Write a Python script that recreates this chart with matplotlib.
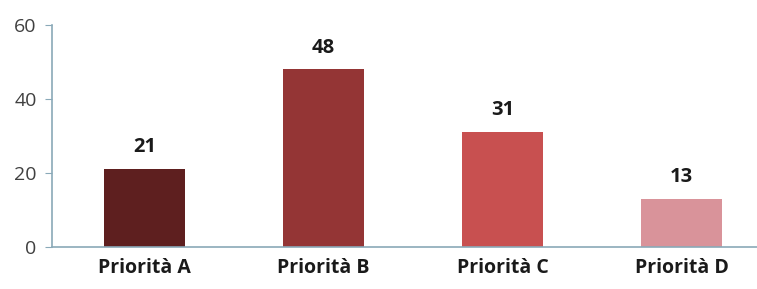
import matplotlib
matplotlib.use("Agg")
import matplotlib.pyplot as plt

categories = ["Priorità A", "Priorità B", "Priorità C", "Priorità D"]
values = [21, 48, 31, 13]
labels = ["21", "48", "31", "13"]
colors = ["#5e1f1f", "#943535", "#c85050", "#d9939a"]
yticks = [0, 20, 40, 60]

plt.rcParams['font.family'] = ['Open Sans', 'DejaVu Sans']

fig = plt.figure(figsize=(7.57, 2.89), dpi=100)
ax = fig.add_axes([0.0687, 0.1453, 0.95, 0.7682])
x = list(range(len(categories)))
ax.bar(x, values, width=0.453, color=colors)
for xi, v, lab in zip(x, values, labels):
    ax.text(xi, v + 3.2, lab, ha='center', va='bottom', fontsize=14.5,
            fontweight='bold', color='#1a1a1a')

ax.set_xlim(-0.517, 3.5)
ax.set_ylim(0, 60)
ax.set_yticks(yticks)
ax.set_xticks(x)
ax.set_xticklabels(categories, fontsize=14, fontweight='bold', color='#1a1a1a')
ax.tick_params(axis='x', length=0, pad=8)
ax.tick_params(axis='y', length=5, color='#8aa9b8', labelsize=14,
               labelcolor='#404040', pad=6, direction='out')
for s in ['top', 'right']:
    ax.spines[s].set_visible(False)
ax.spines['left'].set_color('#8aa9b8')
ax.spines['bottom'].set_color('#8aa9b8')
ax.spines['left'].set_linewidth(1.2)
ax.spines['bottom'].set_linewidth(1.2)

fig.savefig("out.png", dpi=100)
